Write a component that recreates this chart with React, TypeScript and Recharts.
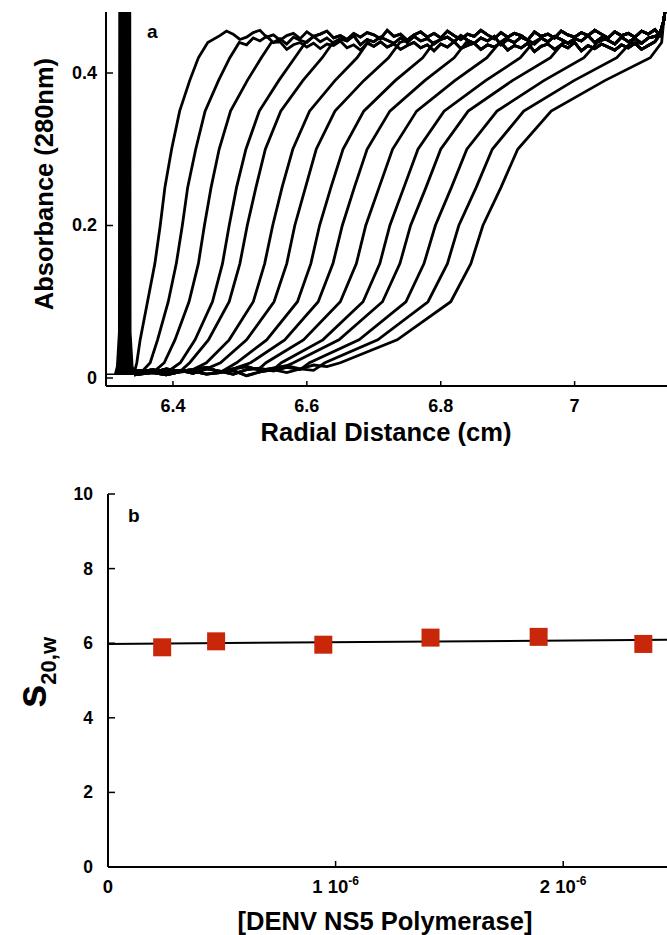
import React from 'react';
import {
  ComposedChart,
  Line,
  Area,
  Scatter,
  XAxis,
  YAxis,
  Label,
} from 'recharts';

// ---- panel a: sedimentation velocity scans ----
// absorbance levels at which each scan's radius was read off the figure
const LEVELS = [0.02, 0.05, 0.1, 0.15, 0.2, 0.25, 0.3, 0.35, 0.39, 0.42, 0.44];

// radius (cm) of each scan at the levels above, first scan to last
const SCAN_RADII = [
  [6.346, 6.351, 6.362, 6.373, 6.381, 6.388, 6.398, 6.41, 6.425, 6.438, 6.452],
  [6.366, 6.377, 6.393, 6.405, 6.414, 6.422, 6.434, 6.448, 6.468, 6.485, 6.499],
  [6.387, 6.403, 6.424, 6.438, 6.447, 6.457, 6.469, 6.486, 6.511, 6.532, 6.547],
  [6.411, 6.433, 6.459, 6.474, 6.484, 6.495, 6.509, 6.529, 6.558, 6.582, 6.598],
  [6.425, 6.453, 6.484, 6.5, 6.511, 6.524, 6.538, 6.561, 6.594, 6.623, 6.639],
  [6.45, 6.484, 6.52, 6.537, 6.549, 6.563, 6.579, 6.604, 6.642, 6.675, 6.691],
  [6.471, 6.51, 6.551, 6.57, 6.582, 6.598, 6.614, 6.642, 6.685, 6.722, 6.739],
  [6.495, 6.54, 6.586, 6.606, 6.619, 6.636, 6.654, 6.685, 6.732, 6.773, 6.79],
  [6.516, 6.567, 6.617, 6.639, 6.653, 6.671, 6.69, 6.724, 6.776, 6.82, 6.838],
  [6.539, 6.595, 6.65, 6.674, 6.688, 6.708, 6.728, 6.764, 6.821, 6.869, 6.888],
  [6.562, 6.624, 6.684, 6.709, 6.724, 6.745, 6.766, 6.805, 6.867, 6.919, 6.938],
  [6.58, 6.648, 6.713, 6.739, 6.755, 6.778, 6.8, 6.841, 6.907, 6.964, 6.983],
  [6.604, 6.678, 6.748, 6.775, 6.792, 6.816, 6.839, 6.884, 6.954, 7.014, 7.034],
  [6.627, 6.706, 6.781, 6.81, 6.827, 6.853, 6.877, 6.924, 6.999, 7.063, 7.084],
  [6.65, 6.735, 6.815, 6.845, 6.863, 6.89, 6.915, 6.965, 7.045, 7.113, 7.13],
];

// noisy baseline between the meniscus and the boundaries
const BASE_R = [6.342, 6.35, 6.37, 6.39, 6.41, 6.43, 6.45, 6.47, 6.49, 6.51, 6.53, 6.55, 6.57, 6.59, 6.61, 6.63, 6.65, 6.67];
const BASE_A = [
  [0.006, 0.008, 0.011, 0.007, 0.01, 0.006, 0.012, 0.009, 0.005, 0.011, 0.013, 0.009, 0.014, 0.011, 0.015, 0.013, 0.017, 0.016],
  [0.004, 0.005, 0.007, 0.004, 0.008, 0.009, 0.005, 0.007, 0.01, 0.003, 0.008, 0.011, 0.007, 0.012, 0.01, 0.009, 0.013, 0.012],
  [0.009, 0.01, 0.007, 0.012, 0.009, 0.011, 0.014, 0.008, 0.012, 0.015, 0.01, 0.013, 0.016, 0.012, 0.017, 0.015, 0.019, 0.021],
];

// plateau (noisy band) read along the top
const PLATEAU_R = [
  6.45, 6.46, 6.47, 6.48, 6.49, 6.5, 6.51, 6.52, 6.53, 6.54, 6.55, 6.56, 6.57, 6.58, 6.59, 6.6, 6.61,
  6.62, 6.63, 6.64, 6.65, 6.66, 6.67, 6.68, 6.69, 6.7, 6.71, 6.72, 6.73, 6.74, 6.75, 6.76, 6.77, 6.78,
  6.79, 6.8, 6.81, 6.82, 6.83, 6.84, 6.85, 6.86, 6.87, 6.88, 6.89, 6.9, 6.91, 6.92, 6.93, 6.94, 6.95,
  6.96, 6.97, 6.98, 6.99, 7.0, 7.01, 7.02, 7.03, 7.04, 7.05, 7.06, 7.07, 7.08, 7.09, 7.1, 7.11, 7.12,
];
const PLATEAU_A = [
  [0.452, 0.446, 0.449, 0.455, 0.451, 0.444, 0.447, 0.453, 0.456, 0.447, 0.45, 0.443, 0.449, 0.452, 0.445, 0.454, 0.448,
    0.451, 0.455, 0.446, 0.449, 0.444, 0.452, 0.447, 0.453, 0.45, 0.445, 0.456, 0.448, 0.451, 0.443, 0.45, 0.454, 0.447,
    0.452, 0.446, 0.455, 0.449, 0.444, 0.451, 0.448, 0.456, 0.45, 0.445, 0.453, 0.447, 0.452, 0.449, 0.443, 0.454, 0.448,
    0.451, 0.446, 0.455, 0.45, 0.447, 0.453, 0.449, 0.456, 0.451, 0.446, 0.454, 0.449, 0.452, 0.447, 0.455, 0.451, 0.457],
  [0.444, 0.439, 0.447, 0.441, 0.449, 0.443, 0.437, 0.446, 0.442, 0.448, 0.44, 0.445, 0.438, 0.447, 0.443, 0.44, 0.448,
    0.441, 0.446, 0.439, 0.445, 0.442, 0.449, 0.437, 0.444, 0.441, 0.447, 0.443, 0.439, 0.446, 0.44, 0.448, 0.442, 0.445,
    0.438, 0.444, 0.447, 0.441, 0.449, 0.443, 0.439, 0.446, 0.442, 0.448, 0.437, 0.444, 0.44, 0.447, 0.443, 0.438, 0.446,
    0.441, 0.448, 0.444, 0.439, 0.445, 0.442, 0.449, 0.44, 0.446, 0.443, 0.438, 0.447, 0.441, 0.445, 0.439, 0.446, 0.448],
  [0.437, 0.441, 0.434, 0.439, 0.432, 0.44, 0.436, 0.443, 0.433, 0.438, 0.435, 0.441, 0.431, 0.437, 0.44, 0.434, 0.439,
    0.432, 0.438, 0.436, 0.442, 0.433, 0.437, 0.43, 0.439, 0.435, 0.441, 0.434, 0.438, 0.431, 0.436, 0.44, 0.433, 0.437,
    0.429, 0.438, 0.434, 0.441, 0.432, 0.436, 0.439, 0.431, 0.437, 0.434, 0.44, 0.43, 0.436, 0.433, 0.439, 0.428, 0.435,
    0.438, 0.431, 0.437, 0.433, 0.44, 0.429, 0.436, 0.432, 0.438, 0.434, 0.43, 0.437, 0.433, 0.439, 0.431, 0.436, 0.441],
];

// bottom of the cell: every scan shoots up at the right edge
const CELL_END_R = [7.127, 7.133, 7.138];
const CELL_END_A = [0.45, 0.468, 0.5];

// meniscus spike
const MENISCUS_R = [6.3, 6.313, 6.316, 6.319, 6.3195, 6.3365, 6.337, 6.34, 6.344];
const MENISCUS_A = [0.005, 0.005, 0.015, 0.06, 0.49, 0.49, 0.06, 0.015, 0.006];

const TOP_X_TICKS = [6.4, 6.6, 6.8, 7];
const TOP_X_LABELS = ['6.4', '6.6', '6.8', '7'];
const TOP_Y_TICKS = [0, 0.2, 0.4];
const TOP_Y_LABELS = ['0', '0.2', '0.4'];

// ---- panel b: s20,w vs concentration ----
const CONC = [0.238e-6, 0.475e-6, 0.946e-6, 1.417e-6, 1.892e-6, 2.352e-6];
const S20W = [5.89, 6.05, 5.96, 6.15, 6.17, 5.98];
const FIT_C = [0, 2.456e-6];
const FIT_S = [5.98, 6.09];

const BOT_X_TICKS = [0, 1e-6, 2e-6];
const BOT_X_MANT = ['0', '1 10', '2 10'];
const BOT_X_EXP = ['', '-6', '-6'];
const BOT_Y_TICKS = [0, 2, 4, 6, 8, 10];

const FONT = "'Liberation Sans', Arial, Helvetica, sans-serif";
const RED = '#c9270a';

// layout (chart-local px)
const A_W = 667;
const A_H = 450;
const A_LEFT = 106;
const A_TOP = 12;
const A_BOTTOM = 386;
const A_RIGHT = 667;

const B_OFFSET = 450;
const B_H = 485;
const B_LEFT = 108;
const B_TOP = 44;
const B_BOTTOM = 417;

const scans = SCAN_RADII.map((radii, i) => {
  const first = radii[0];
  const last = radii[radii.length - 1];
  const base = BASE_A[i % BASE_A.length];
  const band = PLATEAU_A[i % PLATEAU_A.length];
  const pts: { r: number; a: number }[] = [];
  BASE_R.forEach((r, j) => {
    if (j === 0 || r < first - 0.008) pts.push({ r, a: base[j] });
  });
  radii.forEach((r, j) => pts.push({ r, a: LEVELS[j] }));
  PLATEAU_R.forEach((r, j) => {
    if (r > last + 0.008 && r < CELL_END_R[0]) pts.push({ r, a: band[j] });
  });
  CELL_END_R.forEach((r, j) => {
    if (r > last) pts.push({ r, a: CELL_END_A[j] });
  });
  return pts;
});

const meniscus = MENISCUS_R.map((r, i) => ({ r, a: MENISCUS_A[i] }));
const points = CONC.map((c, i) => ({ c, s: S20W[i] }));
const fit = FIT_C.map((c, i) => ({ c, s: FIT_S[i] }));

const textStyle = { fontFamily: FONT, fontWeight: 700, fill: '#000' };

function SquareDot(props: any) {
  const { cx, cy } = props;
  return <rect x={cx - 9} y={cy - 9} width={18} height={18} fill={RED} />;
}

export default function App() {
  return (
    <div style={{ position: 'absolute', left: 0, top: 0, width: 667, height: 935, background: '#fff' }}>
      <div style={{ position: 'absolute', left: 0, top: 0 }}>
        <ComposedChart width={A_W} height={A_H} margin={{ top: A_TOP, right: 0, bottom: 0, left: 0 }}>
          <XAxis
            dataKey="r"
            type="number"
            domain={[6.3, 7.138]}
            allowDataOverflow
            ticks={TOP_X_TICKS}
            height={A_H - A_BOTTOM}
            axisLine={{ stroke: '#000', strokeWidth: 2 }}
            tickLine={false}
            tick={(p: any) => {
              const i = TOP_X_TICKS.indexOf(p.payload.value);
              return (
                <g>
                  <line x1={p.x} x2={p.x} y1={A_BOTTOM} y2={A_BOTTOM - 5} stroke="#000" strokeWidth={1.5} />
                  <text x={p.x} y={412} textAnchor="middle" fontSize={18} {...textStyle}>{TOP_X_LABELS[i]}</text>
                </g>
              );
            }}
          >
            <Label
              content={() => (
                <text x={386} y={441} textAnchor="middle" fontSize={25.5} {...textStyle}>Radial Distance (cm)</text>
              )}
            />
          </XAxis>
          <XAxis
            xAxisId="top"
            orientation="top"
            dataKey="r"
            type="number"
            domain={[6.3, 7.138]}
            allowDataOverflow
            ticks={TOP_X_TICKS}
            height={0}
            axisLine={{ stroke: '#000', strokeWidth: 1.5 }}
            tickLine={false}
            tick={(p: any) => (
              <line x1={p.x} x2={p.x} y1={A_TOP} y2={A_TOP + 6} stroke="#000" strokeWidth={1.2} />
            )}
          />
          <YAxis
            type="number"
            domain={[-0.0105, 0.48]}
            allowDataOverflow
            ticks={TOP_Y_TICKS}
            width={A_LEFT}
            axisLine={{ stroke: '#000', strokeWidth: 2 }}
            tickLine={false}
            tick={(p: any) => {
              const i = TOP_Y_TICKS.indexOf(p.payload.value);
              return (
                <g>
                  <line x1={A_LEFT} x2={A_LEFT + 7} y1={p.y} y2={p.y} stroke="#000" strokeWidth={1.5} />
                  <text x={97} y={p.y + 6} textAnchor="end" fontSize={18} {...textStyle}>{TOP_Y_LABELS[i]}</text>
                </g>
              );
            }}
          >
            <Label
              content={() => (
                <text
                  x={53}
                  y={184}
                  transform="rotate(-90, 53, 184)"
                  textAnchor="middle"
                  fontSize={25.5}
                  {...textStyle}
                >
                  Absorbance (280nm)
                </text>
              )}
            />
          </YAxis>
          <YAxis
            yAxisId="right"
            orientation="right"
            type="number"
            domain={[-0.0105, 0.48]}
            allowDataOverflow
            ticks={TOP_Y_TICKS}
            width={0}
            axisLine={{ stroke: '#000', strokeWidth: 1.5 }}
            tickLine={false}
            tick={(p: any) => (
              <line x1={A_RIGHT} x2={A_RIGHT - 5} y1={p.y} y2={p.y} stroke="#000" strokeWidth={1.2} />
            )}
          />
          <Area
            data={meniscus}
            dataKey="a"
            type="linear"
            baseValue={0.004}
            stroke="#000"
            strokeWidth={1.5}
            fill="#000"
            fillOpacity={1}
            isAnimationActive={false}
          />
          {scans.map((d, i) => (
            <Line
              key={i}
              data={d}
              dataKey="a"
              type="linear"
              stroke="#000"
              strokeWidth={2.8}
              dot={false}
              isAnimationActive={false}
            />
          ))}
        </ComposedChart>
        <svg width={A_W} height={A_H} style={{ position: 'absolute', left: 0, top: 0, pointerEvents: 'none' }}>
          <text x={147} y={38} fontSize={19} {...textStyle}>a</text>
        </svg>
      </div>

      <div style={{ position: 'absolute', left: 0, top: B_OFFSET }}>
        <ComposedChart width={A_W} height={B_H} margin={{ top: B_TOP, right: 0, bottom: 0, left: 0 }}>
          <XAxis
            dataKey="c"
            type="number"
            domain={[0, 2.456e-6]}
            allowDataOverflow
            ticks={BOT_X_TICKS}
            height={B_H - B_BOTTOM}
            axisLine={{ stroke: '#000', strokeWidth: 2 }}
            tickLine={false}
            tick={(p: any) => {
              const i = BOT_X_TICKS.indexOf(p.payload.value);
              return (
                <g>
                  <line x1={p.x} x2={p.x} y1={B_BOTTOM} y2={B_BOTTOM - 6} stroke="#000" strokeWidth={1.5} />
                  <text x={p.x} y={443} textAnchor="middle" fontSize={18.5} {...textStyle}>
                    <tspan>{BOT_X_MANT[i]}</tspan>
                    {BOT_X_EXP[i] ? (
                      <tspan fontSize={12} dy={-8}>{BOT_X_EXP[i]}</tspan>
                    ) : null}
                  </text>
                </g>
              );
            }}
          >
            <Label
              content={() => (
                <text x={385} y={480} textAnchor="middle" fontSize={25.5} {...textStyle}>[DENV NS5 Polymerase]</text>
              )}
            />
          </XAxis>
          <XAxis
            xAxisId="top"
            orientation="top"
            dataKey="c"
            type="number"
            domain={[0, 2.456e-6]}
            allowDataOverflow
            ticks={BOT_X_TICKS}
            height={0}
            axisLine={{ stroke: '#000', strokeWidth: 1.5 }}
            tickLine={false}
            tick={(p: any) => (
              <line x1={p.x} x2={p.x} y1={B_TOP} y2={B_TOP + 6} stroke="#000" strokeWidth={1.2} />
            )}
          />
          <YAxis
            dataKey="s"
            type="number"
            domain={[0, 10]}
            ticks={BOT_Y_TICKS}
            width={B_LEFT}
            axisLine={{ stroke: '#000', strokeWidth: 2 }}
            tickLine={false}
            tick={(p: any) => (
              <g>
                <line x1={B_LEFT} x2={B_LEFT + 7} y1={p.y} y2={p.y} stroke="#000" strokeWidth={1.5} />
                <text x={93} y={p.y + 6} textAnchor="end" fontSize={17.5} {...textStyle}>{String(p.payload.value)}</text>
              </g>
            )}
          >
            <Label
              content={() => (
                <text transform="translate(46, 258) rotate(-90)" {...textStyle}>
                  <tspan fontSize={42}>s</tspan>
                  <tspan fontSize={22} dy={10}>20,w</tspan>
                </text>
              )}
            />
          </YAxis>
          <Line
            data={fit}
            dataKey="s"
            type="linear"
            stroke="#000"
            strokeWidth={2}
            dot={false}
            isAnimationActive={false}
          />
          <Scatter data={points} dataKey="s" shape={<SquareDot />} isAnimationActive={false} />
        </ComposedChart>
        <svg width={A_W} height={B_H} style={{ position: 'absolute', left: 0, top: 0, pointerEvents: 'none' }}>
          <text x={128} y={72} fontSize={19} {...textStyle}>b</text>
        </svg>
      </div>
    </div>
  );
}
